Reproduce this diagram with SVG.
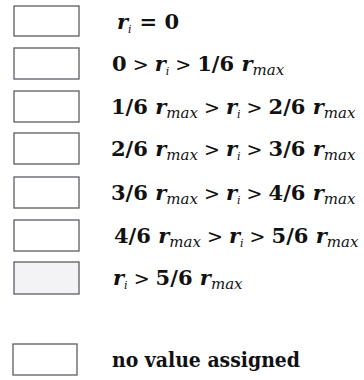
<svg xmlns="http://www.w3.org/2000/svg" width="364" height="380" viewBox="0 0 364 380">
<style>
.box{fill:#ffffff;stroke:#5a5d66;stroke-width:1.3}
.t{font-family:"DejaVu Serif","Liberation Serif",serif;font-size:21px;fill:#111;font-weight:bold}
.r{font-style:italic}
.sub{font-style:italic;font-weight:normal;font-size:15px}
.si{font-style:italic;font-weight:normal;font-size:11px}
.op{font-weight:normal;font-size:19px}
.nv{font-family:"DejaVu Serif","Liberation Serif",serif;font-size:20px;font-weight:bold;fill:#111}
</style>
<rect width="364" height="380" fill="#ffffff"/>
<g id="row1"><rect class="box" x="14" y="6" width="65" height="30"/>
<text class="t" x="117" y="29"><tspan class="r">r</tspan><tspan class="si" dy="4">i</tspan><tspan dy="-4" dx="8">= 0</tspan></text></g>
<g id="row2"><rect class="box" x="14" y="48" width="65" height="31"/>
<text class="t" x="112" y="71"><tspan>0</tspan><tspan class="op"> &gt; </tspan><tspan class="r">r</tspan><tspan class="si" dy="4">i</tspan><tspan class="op" dy="-4"> &gt; </tspan><tspan>1/6 </tspan><tspan class="r">r</tspan><tspan class="sub" dy="4">max</tspan></text></g>
<g id="row3"><rect class="box" x="14" y="91" width="65" height="31"/>
<text class="t" x="111" y="114"><tspan>1/6 </tspan><tspan class="r">r</tspan><tspan class="sub" dy="4">max</tspan><tspan class="op" dy="-4"> &gt; </tspan><tspan class="r">r</tspan><tspan class="si" dy="4">i</tspan><tspan class="op" dy="-4"> &gt; </tspan><tspan>2/6 </tspan><tspan class="r">r</tspan><tspan class="sub" dy="4">max</tspan></text></g>
<g id="row4"><rect class="box" x="14" y="133" width="65" height="31"/>
<text class="t" x="111" y="156"><tspan>2/6 </tspan><tspan class="r">r</tspan><tspan class="sub" dy="4">max</tspan><tspan class="op" dy="-4"> &gt; </tspan><tspan class="r">r</tspan><tspan class="si" dy="4">i</tspan><tspan class="op" dy="-4"> &gt; </tspan><tspan>3/6 </tspan><tspan class="r">r</tspan><tspan class="sub" dy="4">max</tspan></text></g>
<g id="row5"><rect class="box" x="14" y="177" width="65" height="31"/>
<text class="t" x="111" y="200"><tspan>3/6 </tspan><tspan class="r">r</tspan><tspan class="sub" dy="4">max</tspan><tspan class="op" dy="-4"> &gt; </tspan><tspan class="r">r</tspan><tspan class="si" dy="4">i</tspan><tspan class="op" dy="-4"> &gt; </tspan><tspan>4/6 </tspan><tspan class="r">r</tspan><tspan class="sub" dy="4">max</tspan></text></g>
<g id="row6"><rect class="box" x="14" y="220" width="65" height="31"/>
<text class="t" x="114" y="243"><tspan>4/6 </tspan><tspan class="r">r</tspan><tspan class="sub" dy="4">max</tspan><tspan class="op" dy="-4"> &gt; </tspan><tspan class="r">r</tspan><tspan class="si" dy="4">i</tspan><tspan class="op" dy="-4"> &gt; </tspan><tspan>5/6 </tspan><tspan class="r">r</tspan><tspan class="sub" dy="4">max</tspan></text></g>
<g id="row7"><rect class="box" x="14" y="262" width="65" height="32" style="fill:#f3f3f6"/>
<text class="t" x="113" y="285"><tspan class="r">r</tspan><tspan class="si" dy="4">i</tspan><tspan class="op" dy="-4"> &gt; </tspan><tspan>5/6 </tspan><tspan class="r">r</tspan><tspan class="sub" dy="4">max</tspan></text></g>
<g id="nodata"><rect class="box" x="13" y="344" width="64" height="31"/>
<text class="nv" x="112" y="367" textLength="188" lengthAdjust="spacingAndGlyphs">no value assigned</text></g>
</svg>
